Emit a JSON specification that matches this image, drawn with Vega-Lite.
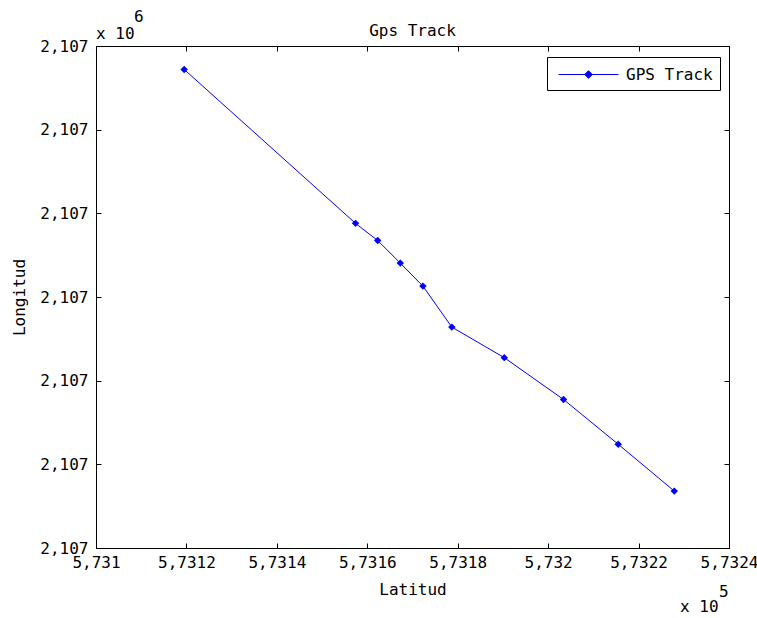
{
  "$schema": "https://vega.github.io/schema/vega-lite/v6.json",
  "autosize": {"type": "none"},
  "width": 633,
  "height": 502,
  "padding": {"left": 96, "top": 46, "right": 28, "bottom": 70},
  "background": "white",
  "title": {"text": "Gps Track", "offset": 9, "dy": 39},
  "config": {
    "font": "DejaVu Sans Mono",
    "view": {"stroke": "black", "strokeWidth": 1},
    "title": {"font": "DejaVu Sans Mono", "fontSize": 16, "fontWeight": "normal", "color": "black"},
    "axis": {
      "labelFont": "DejaVu Sans Mono", "labelFontSize": 16, "labelColor": "black",
      "titleFont": "DejaVu Sans Mono", "titleFontSize": 16, "titleFontWeight": "normal", "titleColor": "black",
      "domainColor": "black", "tickColor": "black", "grid": false,
      "tickSize": -5, "labelOverlap": false, "labelFlush": false
    },
    "legend": {"labelFont": "DejaVu Sans Mono", "labelFontSize": 16, "labelColor": "black"}
  },
  "data": {"values": [
    {"lat": 573119.5, "lon": 2107074.4},
    {"lat": 573157.4, "lon": 2107037.6},
    {"lat": 573162.3, "lon": 2107033.5},
    {"lat": 573167.3, "lon": 2107028.1},
    {"lat": 573172.3, "lon": 2107022.6},
    {"lat": 573178.7, "lon": 2107012.8},
    {"lat": 573190.3, "lon": 2107005.5},
    {"lat": 573203.4, "lon": 2106995.5},
    {"lat": 573215.5, "lon": 2106984.8},
    {"lat": 573227.9, "lon": 2106973.6}
  ]},
  "resolve": {"axis": {"x": "independent", "y": "independent"}},
  "layer": [
    {
      "mark": {"type": "line", "strokeWidth": 1, "color": "#0000ff"},
      "encoding": {
        "x": {"field": "lat", "type": "quantitative",
          "scale": {"domain": [573100, 573240], "nice": false, "zero": false},
          "axis": {"orient": "bottom", "title": "Latitud", "values": [573100, 573120, 573140, 573160, 573180, 573200, 573220, 573240],
            "labelExpr": "replace(format(datum.value/100000, '.4~f'), '.', ',')", "labelPadding": 11, "titlePadding": 11}},
        "y": {"field": "lon", "type": "quantitative",
          "scale": {"domain": [2106960, 2107080], "nice": false, "zero": false},
          "axis": {"orient": "left", "title": "Longitud", "values": [2106960, 2106980, 2107000, 2107020, 2107040, 2107060, 2107080],
            "labelExpr": "replace(format(datum.value/1000000, '.3f'), '.', ',')", "labelPadding": 13, "titlePadding": 12}},
        "order": {"field": "lat"},
        "color": {"datum": "GPS Track", "type": "nominal", "scale": {"range": ["#0000ff"]},
          "legend": {"title": null, "orient": "none", "legendX": 451, "legendY": 11,
            "symbolType": "M-0.6,0H5.4M2.4,-0.38L2.78,0L2.4,0.38L2.02,0Z", "symbolSize": 400,
            "strokeColor": "black", "fillColor": "white", "padding": 7, "labelOffset": 51,
            "encode": {"symbols": {"update": {"fill": {"value": "#0000ff"}, "stroke": {"value": "#0000ff"}, "strokeWidth": {"value": 1}, "opacity": {"value": 1}}}}}}
      }
    },
    {
      "mark": {"type": "point", "shape": "diamond", "filled": true, "size": 55, "opacity": 1},
      "encoding": {
        "x": {"field": "lat", "type": "quantitative",
          "axis": {"orient": "top", "title": null, "labels": false, "values": [573100, 573120, 573140, 573160, 573180, 573200, 573220, 573240]}},
        "y": {"field": "lon", "type": "quantitative",
          "axis": {"orient": "right", "title": null, "labels": false, "values": [2106960, 2106980, 2107000, 2107020, 2107040, 2107060, 2107080]}},
        "color": {"datum": "GPS Track", "type": "nominal"}
      }
    },
    {
      "data": {"values": [{"t": "x 10", "lat": 573100, "lon": 2107080}]},
      "mark": {"type": "text", "align": "left", "baseline": "alphabetic", "dx": 0, "dy": -7, "fontSize": 16, "color": "black"},
      "encoding": {
        "x": {"field": "lat", "type": "quantitative", "axis": null},
        "y": {"field": "lon", "type": "quantitative", "axis": null},
        "text": {"field": "t"}
      }
    },
    {
      "data": {"values": [{"t": "6", "lat": 573100, "lon": 2107080}]},
      "mark": {"type": "text", "align": "left", "baseline": "alphabetic", "dx": 38, "dy": -24, "fontSize": 16, "color": "black"},
      "encoding": {
        "x": {"field": "lat", "type": "quantitative", "axis": null},
        "y": {"field": "lon", "type": "quantitative", "axis": null},
        "text": {"field": "t"}
      }
    },
    {
      "data": {"values": [{"t": "x 10", "lat": 573240, "lon": 2106960}]},
      "mark": {"type": "text", "align": "left", "baseline": "alphabetic", "dx": -49, "dy": 64, "fontSize": 16, "color": "black"},
      "encoding": {
        "x": {"field": "lat", "type": "quantitative", "axis": null},
        "y": {"field": "lon", "type": "quantitative", "axis": null},
        "text": {"field": "t"}
      }
    },
    {
      "data": {"values": [{"t": "5", "lat": 573240, "lon": 2106960}]},
      "mark": {"type": "text", "align": "left", "baseline": "alphabetic", "dx": -10, "dy": 49, "fontSize": 16, "color": "black"},
      "encoding": {
        "x": {"field": "lat", "type": "quantitative", "axis": null},
        "y": {"field": "lon", "type": "quantitative", "axis": null},
        "text": {"field": "t"}
      }
    }
  ]
}
